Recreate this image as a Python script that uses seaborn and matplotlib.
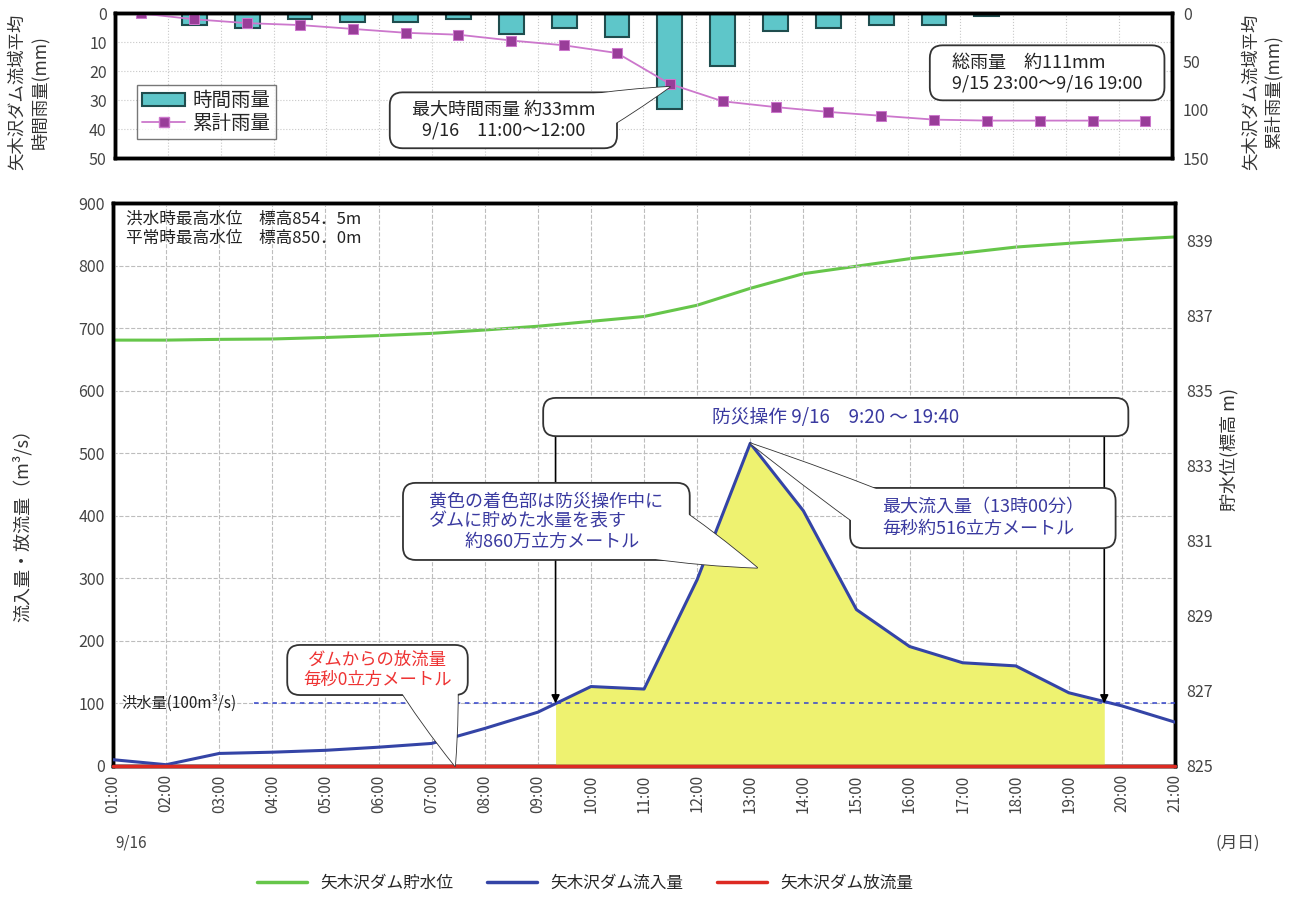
import numpy as np
import pandas as pd
import seaborn as sns
import matplotlib.pyplot as plt
from matplotlib.patches import FancyBboxPatch, Patch
from matplotlib.lines import Line2D

# time axis (hours of 9/16)
hours = list(range(1, 22))
hour_labels = [f"{h:02d}:00" for h in hours]
rain_pos = [h + 0.5 for h in range(1, 21)]

# rainfall (mm)
hourly_rain = [0, 4, 5, 2, 3, 3, 2, 7, 5, 8, 33, 18, 6, 5, 4, 4, 1, 0, 0, 0]
cumulative_rain = [0, 6, 10, 12, 16, 20, 22, 28, 33, 41, 73, 91, 97, 102, 106, 110, 111, 111, 111, 111]

# dam inflow / outflow (m3/s) and reservoir level (m)
inflow = [10, 2, 20, 22, 25, 30, 36, 60, 86, 127, 123, 298, 516, 408, 250, 191, 165, 160, 117, 96, 70]
outflow = [0, 0, 0, 0, 0, 0, 0, 0, 0, 0, 0, 0, 0, 0, 0, 0, 0, 0, 0, 0, 0]
water_level = [836.35, 836.35, 836.37, 836.38, 836.42, 836.47, 836.53, 836.62, 836.72, 836.85, 836.98,
               837.28, 837.73, 838.12, 838.32, 838.52, 838.67, 838.83, 838.93, 839.02, 839.10]

flood_q = 100
op_start = 9 + 20 / 60
op_end = 19 + 40 / 60

BAR = "#5ec6c9"
BAR_EDGE = "#1f4d4e"
CUM_LINE = "#cc77cc"
CUM_MARK = "#993d99"
GREEN = "#66c64a"
BLUE = "#3444a6"
RED = "#dd2a22"
YELLOW = "#eef270"
TXT_BLUE = "#3a3aa0"
TICK = "#444444"
EDGE = "#333333"

sns.set_theme(style="white")
plt.rcParams["font.family"] = ["Noto Sans CJK JP", "DejaVu Sans"]


def callout(a, box, text, color, size, aspect, start=None, tip=None, tip_coords="data",
            width=2.4, ma="center", spacing=1.2):
    """Rounded speech bubble: box in axes fraction, tail from start (axes fraction) to tip."""
    x0, x1, y0, y1 = box
    a.add_patch(FancyBboxPatch((x0, y0), x1 - x0, y1 - y0, boxstyle="round,pad=0,rounding_size=0.012",
                               mutation_aspect=aspect, transform=a.transAxes, fc="white", ec=EDGE,
                               lw=1.3, zorder=8))
    if start is not None:
        # outlined tail under the box, then a fill-only tail over the box outline
        for ec, lw, z in ((EDGE, 1.2, 7.5), ("none", 0, 8.5)):
            a.annotate("", xy=tip, xycoords=tip_coords, xytext=start, textcoords="axes fraction",
                       arrowprops=dict(arrowstyle=f"wedge,tail_width={width},shrink_factor=0.55",
                                       mutation_scale=12, fc="white", ec=ec, lw=lw,
                                       shrinkA=0, shrinkB=0, patchA=None), zorder=z)
    a.text((x0 + x1) / 2, (y0 + y1) / 2, text, transform=a.transAxes, ha="center", va="center",
           multialignment=ma, fontsize=size, color=color, linespacing=spacing, zorder=9)


fig = plt.figure(figsize=(12.92, 8.99), dpi=100)
ax_top = fig.add_axes([0.089, 0.824, 0.818, 0.161])
ax = fig.add_axes([0.0875, 0.148, 0.822, 0.626])
top_aspect = 1057 / 145
bot_aspect = 1062 / 563

# ---- top panel: rainfall ----
ax_top.bar(rain_pos, hourly_rain, width=0.47, color=BAR, edgecolor=BAR_EDGE, linewidth=1.5, zorder=2)
ax_top.set_xlim(1, 21)
ax_top.set_ylim(50, 0)
ax_top.set_yticks(range(0, 51, 10))
ax_top.set_xticks(hours)
ax_top.tick_params(axis="x", labelbottom=False, length=0)
ax_top.tick_params(axis="y", labelsize=11.5, labelcolor=TICK, length=0, pad=6)
ax_top.grid(True, ls=":", color="#c8c8c8", lw=0.8)

ax_top2 = ax_top.twinx()
sns.lineplot(x=rain_pos, y=cumulative_rain, ax=ax_top2, color=CUM_LINE, lw=1.3, marker="s",
             markersize=7, markerfacecolor=CUM_MARK, markeredgecolor=CUM_LINE, legend=False)
ax_top2.set_ylim(150, 0)
ax_top2.set_yticks([0, 50, 100, 150])
ax_top2.set_ylabel("")
ax_top2.tick_params(axis="y", labelsize=11.5, labelcolor=TICK, length=0, pad=8)
for a in (ax_top, ax_top2):
    for s in a.spines.values():
        s.set_linewidth(2.5)
        s.set_color("black")

handles = [Patch(facecolor=BAR, edgecolor=BAR_EDGE, linewidth=1.5),
           Line2D([], [], color=CUM_LINE, lw=1.3, marker="s", markersize=7,
                  markerfacecolor=CUM_MARK, markeredgecolor=CUM_LINE)]
leg = ax_top2.legend(handles, ["時間雨量", "累計雨量"], loc="upper left", bbox_to_anchor=(0.012, 0.57),
                     fontsize=14, frameon=True, fancybox=False, edgecolor="#555555",
                     handlelength=2.2, borderpad=0.25, labelspacing=0.1, handletextpad=0.4)
leg.get_frame().set_linewidth(1.0)

callout(ax_top2, (0.260, 0.475, 0.069, 0.455), "最大時間雨量 約33mm\n9/16　11:00～12:00", "#222222", 13,
        top_aspect, start=(0.449, 0.297), tip=(11.5, 76), width=2.5)
callout(ax_top2, (0.771, 0.993, 0.40, 0.78), "総雨量　約111mm\n9/15 23:00～9/16 19:00", "#222222", 13,
        top_aspect, ma="left")

fig.text(0.022, 0.898, "矢木沢ダム流域平均\n時間雨量(mm)", rotation=90, ha="center", va="center",
         fontsize=12.5, color="#333333", linespacing=1.3)
fig.text(0.977, 0.898, "矢木沢ダム流域平均\n累計雨量(mm)", rotation=90, ha="center", va="center",
         fontsize=12.5, color="#333333", linespacing=1.3)

# ---- bottom panel: inflow / outflow / water level ----
ax2 = ax.twinx()
sns.lineplot(x=hours, y=water_level, ax=ax2, color=GREEN, lw=2.2, legend=False)
ax2.set_ylim(825, 840)
ax2.set_yticks(range(825, 840, 2))
ax2.set_ylabel("")
ax2.tick_params(axis="y", labelsize=11.5, labelcolor=TICK, length=0, pad=8)
ax.set_zorder(ax2.get_zorder() + 1)
ax.patch.set_visible(False)

fill_x = [op_start] + hours[9:19] + [op_end]
fill_y = [flood_q] + inflow[9:19] + [flood_q]
ax.fill_between(fill_x, 0, fill_y, color=YELLOW, lw=0, zorder=1.5)

sns.lineplot(x=hours, y=inflow, ax=ax, color=BLUE, lw=2.2, legend=False, zorder=3)
sns.lineplot(x=hours, y=outflow, ax=ax, color=RED, lw=2.5, legend=False, zorder=4, clip_on=False)

ax.set_xlim(1, 21)
ax.set_ylim(0, 900)
ax.set_yticks(range(0, 901, 100))
ax.set_xticks(hours)
ax.set_xticklabels(hour_labels, rotation=90)
ax.tick_params(axis="y", labelsize=11.5, labelcolor=TICK, length=0, pad=6)
ax.tick_params(axis="x", labelsize=11, labelcolor=TICK, length=0, pad=6)
ax.grid(True, ls="--", color="#bdbdbd", lw=0.8)
ax.set_axisbelow(True)
for a in (ax, ax2):
    for s in a.spines.values():
        s.set_linewidth(2.5)
        s.set_color("black")

# flood discharge line
ax.plot([3.65, 21], [flood_q, flood_q], ls=(0, (3, 3)), color="#3344cc", lw=1.1, zorder=3.5)
ax.text(1.15, flood_q, "洪水量(100m³/s)", ha="left", va="center", fontsize=11, color="#222222")

ax.text(0.012, 0.987, "洪水時最高水位　標高854．5m\n平常時最高水位　標高850．0m", transform=ax.transAxes,
        ha="left", va="top", fontsize=12, color="#222222", linespacing=1.2)

# flood control operation box and arrows
callout(ax, (0.405, 0.956, 0.586, 0.654), "防災操作 9/16　9:20 ～ 19:40", TXT_BLUE, 13.5, bot_aspect)
for xo in (op_start, op_end):
    ax.annotate("", xy=(xo, flood_q), xytext=(xo, 528),
                arrowprops=dict(arrowstyle="-|>", color="black", lw=1.2, mutation_scale=12,
                                shrinkA=0, shrinkB=0), zorder=5)

callout(ax, (0.273, 0.543, 0.366, 0.503),
        "黄色の着色部は防災操作中に\nダムに貯めた水量を表す\n　　約860万立方メートル", TXT_BLUE, 13,
        bot_aspect, start=(0.515, 0.419), tip=(13.13, 317), width=3.6, ma="left", spacing=1.15)
callout(ax, (0.694, 0.944, 0.387, 0.494), "最大流入量（13時00分）\n毎秒約516立方メートル", TXT_BLUE, 13,
        bot_aspect, start=(0.741, 0.428), tip=(13.0, 516), width=3.0, ma="left")
callout(ax, (0.164, 0.334, 0.126, 0.215), "ダムからの放流量\n毎秒0立方メートル", "#ee3333", 12.5,
        bot_aspect, start=(0.294, 0.1705), tip=(7.44, 0), width=4.0, spacing=1.15)

fig.text(0.017, 0.42, "流入量・放流量（m³/s）", rotation=90, ha="center", va="center",
         fontsize=13, color="#333333")
fig.text(0.951, 0.5, "貯水位(標高 m)", rotation=90, ha="center", va="center",
         fontsize=13, color="#333333")
fig.text(0.089, 0.062, "9/16", ha="left", va="center", fontsize=11, color=TICK)
fig.text(0.958, 0.062, "(月日)", ha="center", va="center", fontsize=12, color=TICK)

leg_handles = [Line2D([], [], color=GREEN, lw=2.5), Line2D([], [], color=BLUE, lw=2.5),
               Line2D([], [], color=RED, lw=2.5)]
fig.legend(leg_handles, ["矢木沢ダム貯水位", "矢木沢ダム流入量", "矢木沢ダム放流量"], loc="center",
           bbox_to_anchor=(0.453, 0.017), ncol=3, frameon=False, fontsize=12, handlelength=3.0,
           columnspacing=2.0, handletextpad=0.8)

fig.savefig("out.png", dpi=100)
